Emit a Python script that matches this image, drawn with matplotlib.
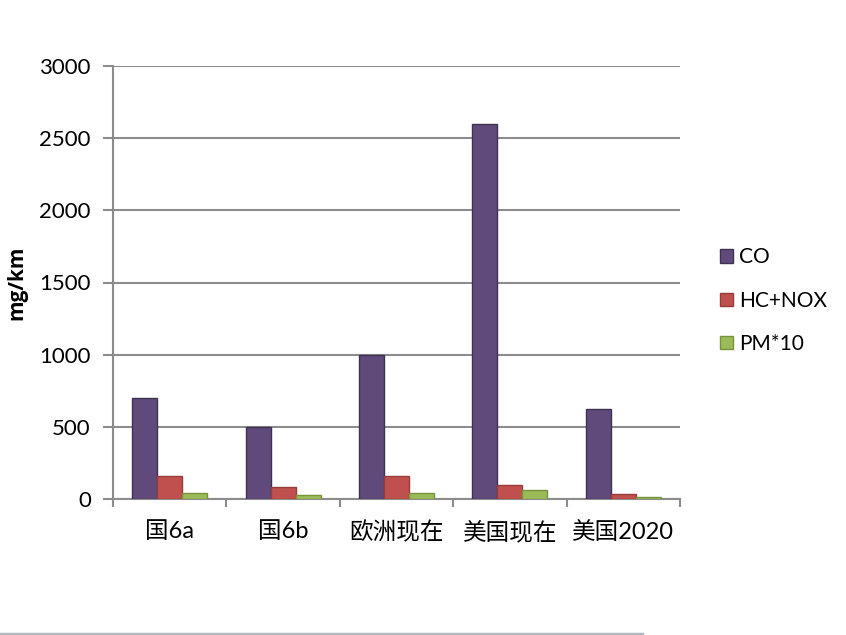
import matplotlib
matplotlib.use("Agg")
import matplotlib.pyplot as plt
import numpy as np
from matplotlib.lines import Line2D

plt.rcParams['font.family'] = ['Lato', 'Noto Sans CJK SC', 'DejaVu Sans']

categories = ["国6a", "国6b", "欧洲现在", "美国现在", "美国2020"]
series_names = ["CO", "HC+NOX", "PM*10"]
co = [700, 500, 1000, 2600, 625]
hc_nox = [160, 80, 160, 95, 38]
pm10 = [40, 30, 40, 62, 12]
yticks = [0, 500, 1000, 1500, 2000, 2500, 3000]

colors = ["#604A7B", "#C0504D", "#9BBB59"]
edges = ["#3F3151", "#963C3A", "#77933C"]

fig = plt.figure(figsize=(8.46, 6.35), dpi=100)
ax = fig.add_axes([113/846, 1-499/635, (680-113)/846, (499-66)/635])

x = np.arange(len(categories))
w = 0.22
for i, (vals, c, e, name) in enumerate(zip([co, hc_nox, pm10], colors, edges, series_names)):
    ax.bar(x + (i-1)*w, vals, width=w, color=c, edgecolor=e, linewidth=1.0, label=name, zorder=3)

ax.set_xlim(-0.5, len(categories)-0.5)
ax.set_ylim(0, 3000)
ax.set_yticks(yticks)
ax.set_yticklabels([str(v) for v in yticks], fontsize=16)
ax.yaxis.grid(True, color="#8C8C8C", linewidth=1.5, zorder=0)
ax.set_axisbelow(True)
ax.tick_params(axis='y', length=7, width=1.5, color="#8C8C8C", pad=9)

ax.set_xticks(x)
ax.set_xticklabels(categories, fontsize=17)
ax.set_xticks(np.arange(-0.5, len(categories)), minor=True)
ax.tick_params(axis='x', which='major', length=0, pad=16)
ax.tick_params(axis='x', which='minor', length=6, width=1.5, color="#8C8C8C")

for s in ['top', 'right']:
    ax.spines[s].set_visible(False)
for s in ['left', 'bottom']:
    ax.spines[s].set_color("#8C8C8C")
    ax.spines[s].set_linewidth(1.5)

ax.set_ylabel("mg/km", fontsize=15, fontweight='bold', family=['Open Sans', 'DejaVu Sans'])
ax.yaxis.set_label_coords(-86/567, 0.5)

leg = fig.legend(loc='upper left', bbox_to_anchor=(712/846, 1-239/635), frameon=False,
                 handlelength=0.6, handleheight=0.6, handletextpad=0.3, labelspacing=1.12,
                 prop={'size': 15}, borderaxespad=0)

fig.add_artist(Line2D([0, 642/846], [1.5/635, 1.5/635], color="#B0B8C0", linewidth=2.5, transform=fig.transFigure))

fig.savefig("out.png", dpi=100)
